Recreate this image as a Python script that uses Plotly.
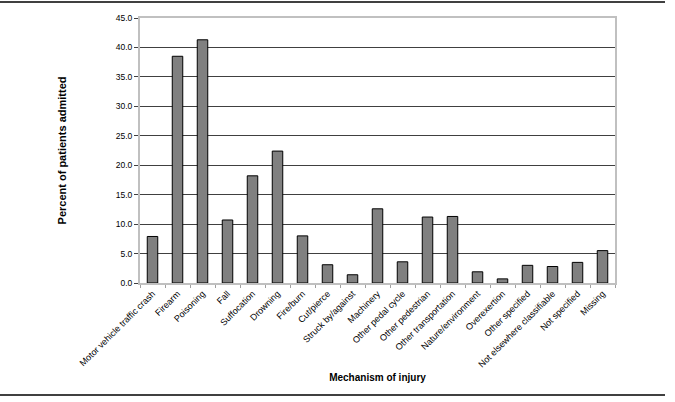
import plotly.graph_objects as go

categories = ["Motor vehicle traffic crash", "Firearm", "Poisoning", "Fall", "Suffocation",
              "Drowning", "Fire/burn", "Cut/pierce", "Struck by/against", "Machinery",
              "Other pedal cycle", "Other pedestrian", "Other transportation",
              "Nature/environment", "Overexertion", "Other specified",
              "Not elsewhere classifiable", "Not specified", "Missing"]
values = [7.9, 38.5, 41.3, 10.7, 18.2, 22.4, 8.0, 3.1, 1.4, 12.6,
          3.6, 11.2, 11.3, 1.9, 0.7, 3.0, 2.8, 3.5, 5.5]
y_ticks = [0, 5, 10, 15, 20, 25, 30, 35, 40, 45]

W, H = 675, 402
L, R, T, B = 140, 615, 18, 283

fig = go.Figure(go.Bar(
    x=categories, y=values, width=0.42,
    marker=dict(color="#808080", line=dict(color="#000000", width=1)),
))

def px(x):
    return (x - L) / (R - L)

def py(y):
    return (B - y) / (B - T)

fig.update_layout(
    width=W, height=H,
    margin=dict(l=L, r=W - R, t=T, b=H - B, pad=0),
    paper_bgcolor="white", plot_bgcolor="white",
    font=dict(family="Liberation Sans, Arial, sans-serif", size=9, color="#000000"),
    showlegend=False,
    shapes=[
        dict(type="line", xref="paper", yref="paper", x0=px(0), x1=px(665), y0=py(2), y1=py(2),
             line=dict(color="#404040", width=2)),
        dict(type="line", xref="paper", yref="paper", x0=px(0), x1=px(665), y0=py(395), y1=py(395),
             line=dict(color="#404040", width=2)),
    ],
)

fig.update_xaxes(
    type="category", tickangle=-45, tickson="boundaries",
    ticks="outside", ticklen=3, tickcolor="#a0a0a0", tickwidth=1,
    showline=True, linecolor="#c0c0c0", linewidth=2, mirror=True,
    showgrid=False, tickfont=dict(size=9),
    title=dict(text="<b>Mechanism of injury</b>", font=dict(size=10), standoff=6),
)
fig.update_yaxes(
    range=[0, 45], tickvals=y_ticks, tickformat=".1f",
    ticks="outside", ticklen=4, tickcolor="#404040", tickwidth=1,
    showline=True, linecolor="#c0c0c0", linewidth=2, mirror=True,
    showgrid=True, gridcolor="#404040", gridwidth=1, zeroline=False,
    tickfont=dict(size=8.5),
    title=dict(text="<b>Percent of patients admitted</b>", font=dict(size=11), standoff=47),
)

fig.write_html("out.html", config={"displayModeBar": False},
               post_script="document.body.style.margin='0';document.body.style.padding='0';")
